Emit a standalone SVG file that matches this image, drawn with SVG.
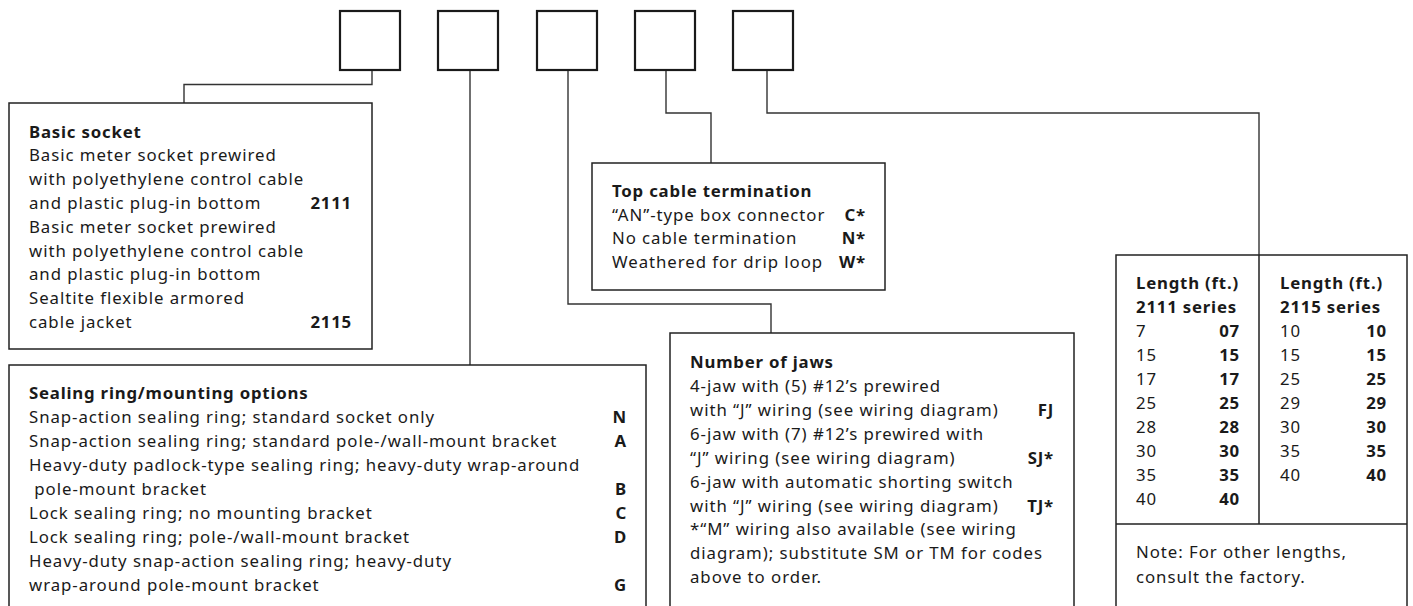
<svg xmlns="http://www.w3.org/2000/svg" width="1413" height="606" viewBox="0 0 1413 606">
<style>
text{font-family:"Noto Sans","Open Sans","DejaVu Sans",sans-serif;font-size:16.8px;letter-spacing:0.95px;fill:#1a1a1a}
.b{font-weight:bold;letter-spacing:0.8px}
.r{text-anchor:end;font-weight:bold;letter-spacing:0.8px}
.sq{fill:#fff;stroke:#1a1a1a;stroke-width:2.2}
.box{fill:#fff;stroke:#222;stroke-width:1.5}
.ln{fill:none;stroke:#333;stroke-width:1.4}
</style>
<rect width="1413" height="606" fill="#fff"/>
<g id="code-boxes">
<rect class="sq" x="340" y="11" width="60" height="59"/>
<rect class="sq" x="438" y="11" width="60" height="59"/>
<rect class="sq" x="537" y="11" width="60" height="59"/>
<rect class="sq" x="635" y="11" width="60" height="59"/>
<rect class="sq" x="733" y="11" width="60" height="59"/>
</g>
<g id="connectors">
<path class="ln" d="M372,71 V84.5 H184 V103"/>
<path class="ln" d="M470,71 V365"/>
<path class="ln" d="M568,71 V304 H771 V333"/>
<path class="ln" d="M666,71 V113 H711 V163"/>
<path class="ln" d="M767,71 V113 H1259 V255"/>
</g>
<g id="basic-socket">
<rect class="box" x="9" y="103" width="363" height="246"/>
<text x="29" y="137.5" class="b">Basic socket</text>
<text x="29" y="161.3">Basic meter socket prewired</text>
<text x="29" y="185.1">with polyethylene control cable</text>
<text x="29" y="208.9">and plastic plug-in bottom</text>
<text x="352" y="208.9" class="r">2111</text>
<text x="29" y="232.7">Basic meter socket prewired</text>
<text x="29" y="256.5">with polyethylene control cable</text>
<text x="29" y="280.3">and plastic plug-in bottom</text>
<text x="29" y="304.1">Sealtite flexible armored</text>
<text x="29" y="327.9">cable jacket</text>
<text x="352" y="327.9" class="r">2115</text>
</g>
<g id="sealing-ring">
<rect class="box" x="9" y="365" width="637" height="260"/>
<text x="29" y="399.3" class="b">Sealing ring/mounting options</text>
<text x="29" y="423.3">Snap-action sealing ring; standard socket only</text>
<text x="627" y="423.3" class="r">N</text>
<text x="29" y="447.3">Snap-action sealing ring; standard pole-/wall-mount bracket</text>
<text x="627" y="447.3" class="r">A</text>
<text x="29" y="471.3">Heavy-duty padlock-type sealing ring; heavy-duty wrap-around</text>
<text x="29" y="495.3" xml:space="preserve"> pole-mount bracket</text>
<text x="627" y="495.3" class="r">B</text>
<text x="29" y="519.3">Lock sealing ring; no mounting bracket</text>
<text x="627" y="519.3" class="r">C</text>
<text x="29" y="543.3">Lock sealing ring; pole-/wall-mount bracket</text>
<text x="627" y="543.3" class="r">D</text>
<text x="29" y="567.3">Heavy-duty snap-action sealing ring; heavy-duty</text>
<text x="29" y="591.3">wrap-around pole-mount bracket</text>
<text x="627" y="591.3" class="r">G</text>
</g>
<g id="top-cable">
<rect class="box" x="592" y="163" width="293" height="127"/>
<text x="612" y="197" class="b">Top cable termination</text>
<text x="612" y="220.6">“AN”-type box connector</text>
<text x="866" y="220.6" class="r">C*</text>
<text x="612" y="244.2">No cable termination</text>
<text x="866" y="244.2" class="r">N*</text>
<text x="612" y="267.8">Weathered for drip loop</text>
<text x="866" y="267.8" class="r">W*</text>
</g>
<g id="jaws">
<rect class="box" x="670" y="333" width="404" height="290"/>
<text x="690" y="367.7" class="b">Number of jaws</text>
<text x="690" y="391.7">4-jaw with (5) #12’s prewired</text>
<text x="690" y="415.6">with “J” wiring (see wiring diagram)</text>
<text x="1054" y="415.6" class="r">FJ</text>
<text x="690" y="439.6">6-jaw with (7) #12’s prewired with</text>
<text x="690" y="463.5">“J” wiring (see wiring diagram)</text>
<text x="1054" y="463.5" class="r">SJ*</text>
<text x="690" y="487.5">6-jaw with automatic shorting switch</text>
<text x="690" y="511.5">with “J” wiring (see wiring diagram)</text>
<text x="1054" y="511.5" class="r">TJ*</text>
<text x="690" y="535.4">*“M” wiring also available (see wiring</text>
<text x="690" y="559.4">diagram); substitute SM or TM for codes</text>
<text x="690" y="583.3">above to order.</text>
</g>
<g id="length">
<rect class="box" x="1116" y="255" width="291" height="370"/>
<path class="box" d="M1259,255 V524 M1116,524 H1407"/>
<text x="1136" y="289.3" class="b">Length (ft.)</text>
<text x="1136" y="313.3" class="b">2111 series</text>
<text x="1136" y="337.3">7</text><text x="1240" y="337.3" class="r">07</text>
<text x="1136" y="361.3">15</text><text x="1240" y="361.3" class="r">15</text>
<text x="1136" y="385.3">17</text><text x="1240" y="385.3" class="r">17</text>
<text x="1136" y="409.3">25</text><text x="1240" y="409.3" class="r">25</text>
<text x="1136" y="433.3">28</text><text x="1240" y="433.3" class="r">28</text>
<text x="1136" y="457.3">30</text><text x="1240" y="457.3" class="r">30</text>
<text x="1136" y="481.3">35</text><text x="1240" y="481.3" class="r">35</text>
<text x="1136" y="505.3">40</text><text x="1240" y="505.3" class="r">40</text>
<text x="1280" y="289.3" class="b">Length (ft.)</text>
<text x="1280" y="313.3" class="b">2115 series</text>
<text x="1280" y="337.3">10</text><text x="1387" y="337.3" class="r">10</text>
<text x="1280" y="361.3">15</text><text x="1387" y="361.3" class="r">15</text>
<text x="1280" y="385.3">25</text><text x="1387" y="385.3" class="r">25</text>
<text x="1280" y="409.3">29</text><text x="1387" y="409.3" class="r">29</text>
<text x="1280" y="433.3">30</text><text x="1387" y="433.3" class="r">30</text>
<text x="1280" y="457.3">35</text><text x="1387" y="457.3" class="r">35</text>
<text x="1280" y="481.3">40</text><text x="1387" y="481.3" class="r">40</text>
<text x="1136" y="558.3">Note: For other lengths,</text>
<text x="1136" y="582.7">consult the factory.</text>
</g>
</svg>
